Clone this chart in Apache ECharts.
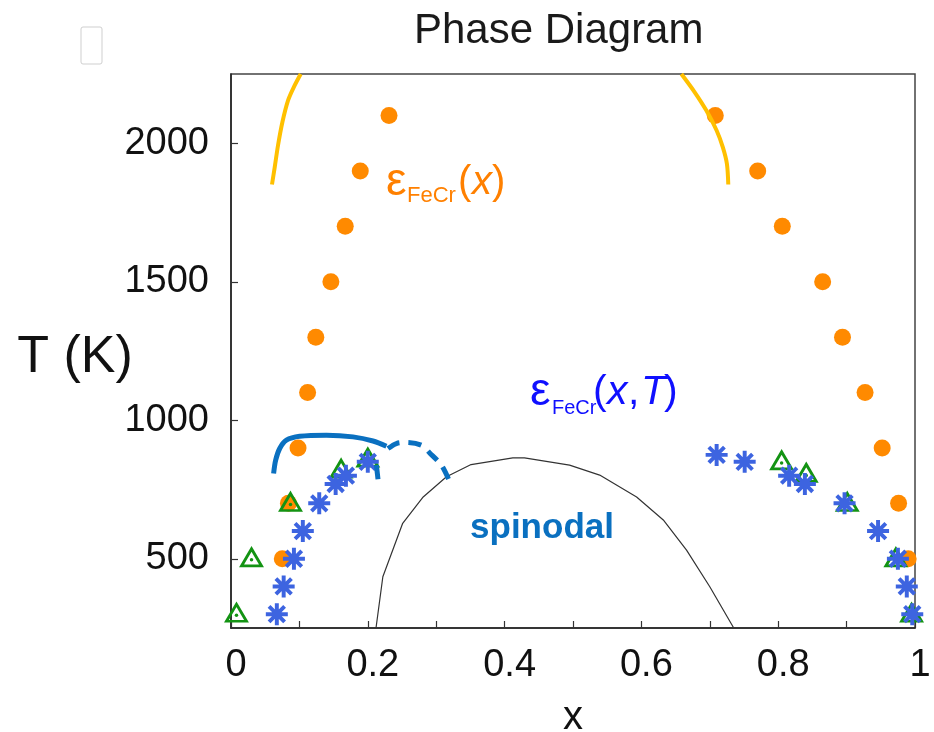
<!DOCTYPE html>
<html>
<head>
<meta charset="utf-8">
<script src="https://cdn.jsdelivr.net/npm/echarts@6/dist/echarts.min.js"></script>
<style>
html,body{margin:0;padding:0;background:#fff;}
#chart{width:934px;height:732px;}
</style>
</head>
<body>
<div id="chart"></div>
<script>
// ---------- data ----------
const xTickValues = [0, 0.1, 0.2, 0.3, 0.4, 0.5, 0.6, 0.7, 0.8, 0.9, 1];
const xLabelValues = [0, 0.2, 0.4, 0.6, 0.8, 1];
const yLabelValues = [500, 1000, 1500, 2000];

// orange circles: eps_FeCr(x)
const orangeX = [0.075, 0.084, 0.098, 0.112, 0.124, 0.146, 0.167, 0.189, 0.231,
                 0.708, 0.770, 0.806, 0.865, 0.894, 0.927, 0.952, 0.976, 0.990];
const orangeT = [500, 700, 900, 1100, 1300, 1500, 1700, 1900, 2100,
                 2100, 1900, 1700, 1500, 1300, 1100, 900, 700, 500];

// blue asterisks
const starX = [0.067, 0.077, 0.092, 0.105, 0.129, 0.153, 0.168, 0.200,
               0.710, 0.751, 0.816, 0.839, 0.897, 0.946, 0.975, 0.988, 0.996];
const starT = [300, 400, 500, 600, 700, 770, 800, 850,
               875, 850, 800, 770, 700, 600, 500, 400, 300];

// green open triangles
const triX = [0.008, 0.030, 0.087, 0.161, 0.200, 0.805, 0.841, 0.901, 0.972, 0.995];
const triT = [305, 505, 705, 825, 865, 855, 810, 705, 505, 305];

// spinodal (thin black)
const spinX = [0.212, 0.222, 0.251, 0.281, 0.315, 0.351, 0.412, 0.429, 0.495, 0.539, 0.593, 0.632, 0.666, 0.700, 0.735];
const spinT = [250, 435, 628, 723, 796, 840, 864, 864, 838, 802, 723, 640, 531, 399, 250];

// yellow curves (high-T boundary)
const yellowLeftX = [0.0599, 0.0639, 0.0687, 0.0751, 0.0833, 0.0917, 0.1019];
const yellowLeftT = [1851, 1913, 1992, 2076, 2154, 2202, 2250];
const yellowRightX = [0.6585, 0.678, 0.695, 0.710, 0.719, 0.725, 0.727];
const yellowRightT = [2250, 2184, 2118, 2046, 1986, 1926, 1851];

// blue thick curves
const blueSolidX = [0.0623, 0.0653, 0.0712, 0.081, 0.1004, 0.1395, 0.1784, 0.2076, 0.2272];
const blueSolidT = [808, 856, 898, 928, 942, 946, 940, 925, 906];
const blueDashX = [0.2295, 0.2418, 0.2564, 0.2784, 0.2905, 0.3076, 0.3187];
const blueDashT = [898, 916, 920, 910, 882, 838, 784];
const blueStubX = [0.2126, 0.2134, 0.2149];
const blueStubT = [838, 820, 787];

const pts = (xs, ts) => xs.map((x, i) => [x, ts[i]]);

const FONT = "'Liberation Sans', Arial, Helvetica, sans-serif";
const asteriskPath = 'path://M-10,-1.8L10,-1.8L10,1.8L-10,1.8Z M-1.8,-10L1.8,-10L1.8,10L-1.8,10Z M-5.80,-8.34L8.34,5.80L5.80,8.34L-8.34,-5.80Z M8.34,-5.80L-5.80,8.34L-8.34,5.80L5.80,-8.34Z';

const chart = echarts.init(document.getElementById('chart'), null, {renderer: 'canvas'});

const option = {
  backgroundColor: '#ffffff',
  animation: false,
  title: {
    text: 'Phase Diagram',
    left: 414, top: 10, padding: 0,
    textStyle: {fontFamily: FONT, fontSize: 42, fontWeight: 'normal', color: '#1a1a1a'}
  },
  grid: {
    left: 231, right: 19, top: 74, bottom: 104,
    outerBoundsMode: 'none', containLabel: false,
    show: true, borderColor: '#444', borderWidth: 1.5, backgroundColor: 'transparent'
  },
  xAxis: {
    type: 'value', min: 0, max: 1, interval: 0.1,
    name: 'x', nameLocation: 'middle', nameGap: 70,
    nameTextStyle: {fontFamily: FONT, fontSize: 40, color: '#111'},
    axisLine: {show: true, onZero: false, lineStyle: {color: '#222', width: 1.5}},
    axisTick: {show: true, inside: true, length: 7, customValues: xTickValues, lineStyle: {color: '#333', width: 1.2}},
    axisLabel: {
      customValues: xLabelValues, margin: 19, padding: [0, 0, 0, 10],
      fontFamily: FONT, fontSize: 38, color: '#111',
      formatter: v => String(Math.round(v * 10) / 10)
    },
    splitLine: {show: false}
  },
  yAxis: {
    type: 'value', min: 250, max: 2250,
    axisLine: {show: true, onZero: false, lineStyle: {color: '#222', width: 1.5}},
    axisTick: {show: true, inside: true, length: 7, customValues: yLabelValues, lineStyle: {color: '#333', width: 1.2}},
    axisLabel: {customValues: yLabelValues, margin: 22, fontFamily: FONT, fontSize: 38, color: '#111',
      formatter: v => String(v)},
    splitLine: {show: false}
  },
  graphic: [
    {type: 'rect', shape: {x: 81, y: 27, width: 21, height: 37, r: 2},
     style: {fill: '#fff', stroke: '#cfcfcf', lineWidth: 1}},
    {type: 'text', x: 75, y: 358,
     style: {text: 'T (K)', font: '52px ' + FONT, fill: '#111', align: 'center', verticalAlign: 'middle'}},
    // orange label
    {type: 'text', x: 386, y: 182, style: {text: 'ε', font: '46px ' + FONT, fill: '#ff8000', align: 'left', verticalAlign: 'middle'}},
    {type: 'text', x: 407, y: 196, style: {text: 'FeCr', font: '22px ' + FONT, fill: '#ff8000', align: 'left', verticalAlign: 'middle'}},
    {type: 'text', x: 458, y: 183, style: {text: '(', font: '40px ' + FONT, fill: '#ff8000', align: 'left', verticalAlign: 'middle'}},
    {type: 'text', x: 472, y: 183, style: {text: 'x', font: 'italic 40px ' + FONT, fill: '#ff8000', align: 'left', verticalAlign: 'middle'}},
    {type: 'text', x: 492, y: 183, style: {text: ')', font: '40px ' + FONT, fill: '#ff8000', align: 'left', verticalAlign: 'middle'}},
    // blue label
    {type: 'text', x: 530, y: 392, style: {text: 'ε', font: '46px ' + FONT, fill: '#1010ff', align: 'left', verticalAlign: 'middle'}},
    {type: 'text', x: 552, y: 408, style: {text: 'FeCr', font: '20px ' + FONT, fill: '#1010ff', align: 'left', verticalAlign: 'middle'}},
    {type: 'text', x: 593, y: 393, style: {text: '(', font: '41px ' + FONT, fill: '#1010ff', align: 'left', verticalAlign: 'middle'}},
    {type: 'text', x: 607, y: 393, style: {text: 'x', font: 'italic 41px ' + FONT, fill: '#1010ff', align: 'left', verticalAlign: 'middle'}},
    {type: 'text', x: 628, y: 393, style: {text: ',', font: '41px ' + FONT, fill: '#1010ff', align: 'left', verticalAlign: 'middle'}},
    {type: 'text', x: 641, y: 393, style: {text: 'T', font: 'italic 41px ' + FONT, fill: '#1010ff', align: 'left', verticalAlign: 'middle'}},
    {type: 'text', x: 664, y: 393, style: {text: ')', font: '41px ' + FONT, fill: '#1010ff', align: 'left', verticalAlign: 'middle'}},
    // spinodal label
    {type: 'text', x: 542, y: 528, style: {text: 'spinodal', font: 'bold 35px ' + FONT, fill: '#0a70c0', align: 'center', verticalAlign: 'middle'}}
  ],
  series: [
    {
      name: 'spinodal', type: 'line', data: pts(spinX, spinT), showSymbol: false, smooth: false,
      lineStyle: {color: '#333', width: 1.2}, z: 2
    },
    {
      name: 'eps(x)', type: 'scatter', data: pts(orangeX, orangeT), symbol: 'circle', symbolSize: 17,
      itemStyle: {color: '#ff8a00', opacity: 1}, z: 3
    },
    {
      name: 'triangles', type: 'scatter', data: pts(triX, triT), symbol: 'triangle', symbolSize: [20, 17],
      itemStyle: {color: 'rgba(255,255,255,0)', borderColor: '#139313', borderWidth: 2.8, opacity: 1}, z: 4
    },
    {
      name: 'triangle dots', type: 'scatter', data: pts(triX, triT), symbol: 'circle', symbolSize: 3.5,
      symbolOffset: [0, 2.5], itemStyle: {color: '#139313', opacity: 1}, z: 4
    },
    {
      name: 'asterisks', type: 'scatter', data: pts(starX, starT), symbol: asteriskPath, symbolSize: 22,
      symbolKeepAspect: true, itemStyle: {color: '#3d64e0', opacity: 1}, z: 5
    },
    {
      name: 'yellow left', type: 'line', data: pts(yellowLeftX, yellowLeftT), showSymbol: false, smooth: 0.3,
      lineStyle: {color: '#ffc000', width: 4}, z: 6
    },
    {
      name: 'yellow right', type: 'line', data: pts(yellowRightX, yellowRightT), showSymbol: false, smooth: 0.3,
      lineStyle: {color: '#ffc000', width: 4}, z: 6
    },
    {
      name: 'blue solid', type: 'line', data: pts(blueSolidX, blueSolidT), showSymbol: false, smooth: 0.3,
      lineStyle: {color: '#0a70c0', width: 5}, z: 6
    },
    {
      name: 'blue dashed', type: 'line', data: pts(blueDashX, blueDashT), showSymbol: false, smooth: 0.3,
      lineStyle: {color: '#0a70c0', width: 5, type: [13, 9]}, z: 6
    },
    {
      name: 'blue stub', type: 'line', data: pts(blueStubX, blueStubT), showSymbol: false, smooth: 0.3,
      lineStyle: {color: '#0a70c0', width: 5}, z: 6
    }
  ]
};
chart.setOption(option);
</script>
</body>
</html>
